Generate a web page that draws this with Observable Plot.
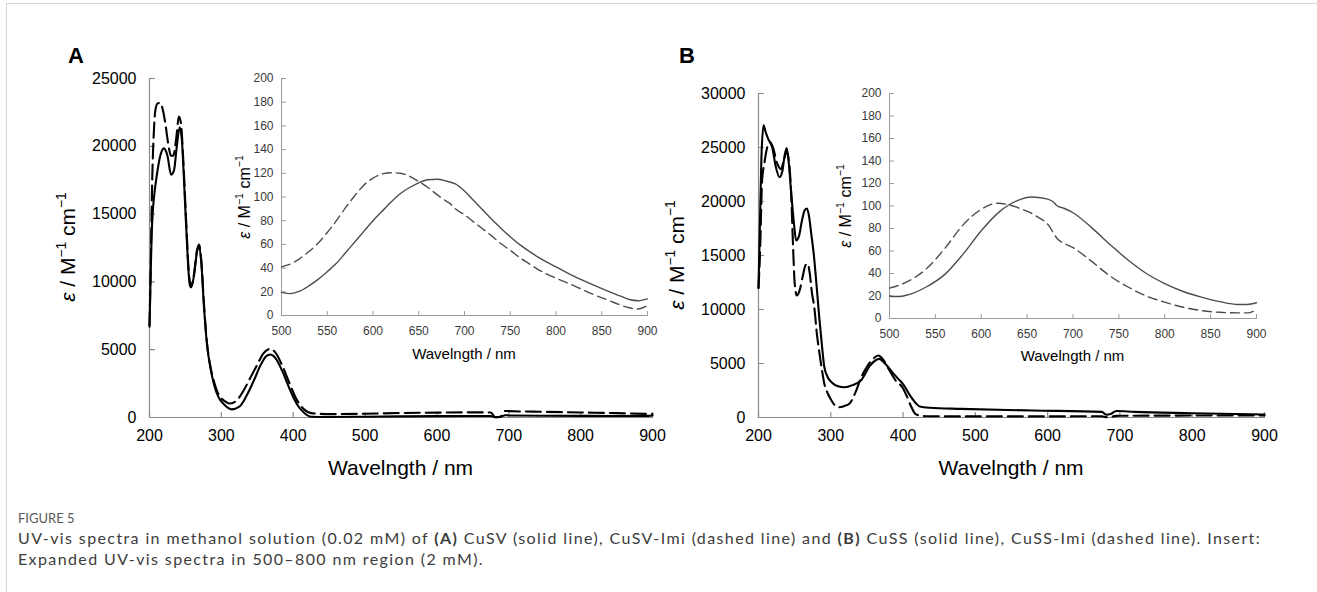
<!DOCTYPE html>
<html>
<head>
<meta charset="utf-8">
<script src="https://cdn.jsdelivr.net/npm/d3@7"></script>
<script src="https://cdn.jsdelivr.net/npm/@observablehq/plot@0.6"></script>
<style>
  html, body { margin: 0; padding: 0; background: #fff; }
  #root { position: relative; width: 1317px; height: 592px; overflow: hidden; background: #fff; }
  #frame { position: absolute; left: 6px; top: 3px; right: -2px; bottom: -2px; border-top: 1px solid #d6d6d6; border-left: 1px solid #d6d6d6; }
  svg.ov { position: absolute; left: 0; top: 0; pointer-events: none; }
</style>
</head>
<body>
<div id="root"><div id="frame"></div></div>
<script>
// ---------------- tick values ----------------
const xTicksMain = [200, 300, 400, 500, 600, 700, 800, 900];
const yTicksA = [0, 5000, 10000, 15000, 20000, 25000];
const yTicksB = [0, 5000, 10000, 15000, 20000, 25000, 30000];
const xTicksInset = [500, 550, 600, 650, 700, 750, 800, 850, 900];
const yTicksInset = [0, 20, 40, 60, 80, 100, 120, 140, 160, 180, 200];

// ---------------- panel A, main (0.02 mM) ----------------
const mainA_solid_wl  = [200,201,203,205,207,210,215,220,225,230,234,238,242,245,248,252,256,258,262,266,269,272,276,280,285,290,296,305,314,325,335,345,355,362,368,375,385,395,405,415,425,450,500,550,600,650,675,681,688,695,700,800,850,895,900];
const mainA_solid_eps = [6800,9000,13500,15500,16600,17800,19300,19850,19300,17900,18200,20000,21400,20500,17500,13000,9800,9600,10500,12200,12650,11500,8000,5400,3600,2400,1500,900,600,800,1600,2700,3900,4500,4650,4400,3400,2100,1000,350,60,40,60,80,100,110,110,20,40,170,150,120,110,120,150];
const mainA_dash_wl   = [200,202,204,206,208,211,215,218,222,226,230,233,237,241,244,247,251,255,258,262,266,269,272,276,280,285,290,296,305,311,320,330,340,350,358,368,375,385,395,405,415,425,435,450,500,550,600,650,675,681,688,695,700,750,800,850,900];
const mainA_dash_eps  = [6700,12000,18000,21000,22600,23150,23200,22800,21700,20200,19300,19300,20500,22200,21600,19000,14500,10500,9700,10600,12300,12750,11600,8200,5500,3700,2600,1700,1200,1030,1200,1900,2900,3900,4700,5060,4800,3800,2500,1300,600,320,280,250,280,330,360,380,370,30,60,480,470,420,370,320,250];

// ---------------- panel B, main (0.02 mM) ----------------
const mainB_solid_wl  = [200,202,204,207,210,214,219,224,229,233,236,239,242,245,249,252,256,260,264,267,270,273,276,280,284,288,291,296,301,310,319,330,342,354,362,367,375,385,393,400,410,418,423,437,480,580,675,681,688,695,720,800,900];
const mainB_solid_eps = [12000,18000,24000,27050,26400,25700,25000,23200,22250,22800,24200,24950,23500,21000,18000,16400,16800,18200,19200,19350,18600,17000,15400,12500,9300,6500,4700,3700,3270,2900,2800,3000,3450,4780,5300,5430,5000,4200,3600,3100,2000,1300,1020,900,800,650,520,250,350,600,520,400,280];
const mainB_dash_wl   = [200,202,205,208,212,216,220,226,231,235,239,242,245,248,250,253,257,261,265,268,271,274,277,281,284,288,291,296,301,306,311,318,326,334,342,350,358,366,372,380,390,399,405,412,417,425,431,500,600,675,681,688,695,700,800,900];
const mainB_dash_eps  = [12000,15000,22000,23500,25000,25500,25000,23500,23000,23800,24600,23800,21000,15500,12500,11300,11800,13000,14100,14250,13300,11500,10300,7600,6100,4300,3150,2200,1570,1100,950,1050,1300,2300,3700,4700,5400,5740,5400,4500,3400,2800,2000,900,340,150,120,100,100,120,30,60,150,160,180,200];

// ---------------- panel A, inset (2 mM) ----------------
const insA_solid_wl  = [500,510,520,530,540,550,560,570,580,590,600,610,620,630,640,650,660,670,680,690,700,710,720,730,740,750,760,770,780,790,800,820,840,860,870,880,890,900];
const insA_solid_eps = [19.5,18.5,20.5,25,30.5,37,44,53,62,71,80,88,96,103,108,112,114.5,115,113.5,111,105,97,89,81,73.5,66.5,60,54.5,49.5,45,41,33,26,19.5,16.5,13.5,12.5,14];
const insA_dash_wl   = [500,510,520,530,540,550,560,570,580,590,600,610,620,630,640,650,660,670,680,685,690,700,710,720,730,740,750,760,770,780,790,800,820,840,860,870,880,890,900];
const insA_dash_eps  = [41,43.5,48,54,61,70,80,91,101,110,116,119.5,120.5,120,117.5,113,108,102,96.5,94,90,85,79,73,67,60.5,55,49,44,39,35,31.5,25,18,12,9,6.5,5.5,8.5];

// ---------------- panel B, inset (2 mM) ----------------
const insB_solid_wl  = [500,505,510,520,540,560,580,600,620,640,655,670,678,683,690,700,720,740,760,780,800,820,840,860,880,890,900];
const insB_solid_eps = [20,19.5,19.5,21,28,39,57,78,95,105,108,106.5,104,100,98,94,81,66,52,40,31,24,19,15,12.5,12.5,14];
const insB_dash_wl   = [500,520,540,560,580,600,618,630,640,660,675,680,684,690,700,720,740,760,780,800,820,840,860,880,890,900];
const insB_dash_eps  = [27,33,44,62,83,97,102.5,101,98.5,91,81,74,70,67,63,51,38,28,20,14.5,10,7,5.5,5,5,8];

// ---------------- text ----------------
const xTitle = "Wavelngth / nm";
const panelLetters = ["A", "B"];
const figLabel = "FIGURE 5";
const captionLine1 = [
  ["UV-vis spectra in methanol solution (0.02 mM) of ", false],
  ["(A)", true],
  [" CuSV (solid line), CuSV-Imi (dashed line) and ", false],
  ["(B)", true],
  [" CuSS (solid line), CuSS-Imi (dashed line). Insert:", false]
];
const captionLine2 = "Expanded UV-vis spectra in 500\u2013800 nm region (2 mM).";

// ---------------- helpers ----------------
const root = document.getElementById("root");
const toRows = (xs, ys) => d3.zip(xs, ys).map(([x, y]) => ({x, y}));
const tickShape = { draw(ctx, l) { ctx.moveTo(0, 0); ctx.lineTo(0, -l); } };

function chart(c) {
  const svg = Plot.plot({
    width: c.width, height: c.height,
    marginLeft: c.frame.l - c.left,
    marginRight: c.left + c.width - c.frame.r,
    marginTop: c.frame.t - c.top,
    marginBottom: c.top + c.height - c.frame.b,
    x: {domain: c.xDomain},
    y: {domain: c.yDomain},
    style: {background: "transparent", fontFamily: "'Liberation Sans', Arial, sans-serif", overflow: "visible"},
    marks: [
      Plot.axisX({ticks: c.xTicks, tickSize: 0, tickPadding: c.padX, fontSize: c.font, fill: c.labelColor, label: null, tickFormat: d => String(d)}),
      Plot.axisY({ticks: c.yTicks, tickSize: 0, tickPadding: c.padY, fontSize: c.font, fill: c.labelColor, label: null, tickFormat: d => String(d)}),
      Plot.ruleX([c.xDomain[0]], {stroke: c.axisColor, strokeWidth: c.axisWidth}),
      Plot.ruleY([c.yDomain[0]], {stroke: c.axisColor, strokeWidth: c.axisWidth}),
      Plot.vector(c.xTicks, {x: d => d, y: () => c.yDomain[0], length: c.tickLen, anchor: "start", shape: tickShape, stroke: c.axisColor, strokeWidth: c.axisWidth}),
      Plot.vector(c.yTicks, {x: () => c.xDomain[0], y: d => d, length: c.tickLen, rotate: 90, anchor: "start", shape: tickShape, stroke: c.axisColor, strokeWidth: c.axisWidth}),
      Plot.line(c.solid, {x: "x", y: "y", curve: "monotone-x", stroke: c.lineColor, strokeWidth: c.lineWidth}),
      Plot.line(c.dashed, {x: "x", y: "y", curve: "monotone-x", stroke: c.lineColor, strokeWidth: c.lineWidth, strokeDasharray: c.dash})
    ]
  });
  svg.style.position = "absolute";
  svg.style.left = c.left + "px";
  svg.style.top = c.top + "px";
  root.appendChild(svg);
}

const mainStyle = {xDomain: [200, 900], xTicks: xTicksMain, font: 16, labelColor: "#000", axisColor: "#8a8a8a", axisWidth: 1.2, tickLen: 5, padX: 12, padY: 13, lineColor: "#000", lineWidth: 2.1, dash: "15,6"};
const insetStyle = {xDomain: [500, 900], xTicks: xTicksInset, yTicks: yTicksInset, yDomain: [0, 200], font: 12, labelColor: "#3a3a3a", axisColor: "#9a9a9a", axisWidth: 1, tickLen: 4, padX: 11, padY: 8, lineColor: "#4d4d4d", lineWidth: 1.4, dash: "9,5"};

chart({...mainStyle, left: 0, top: 0, width: 690, height: 470, frame: {l: 149, r: 652, t: 78, b: 417},
  yDomain: [0, 25000], yTicks: yTicksA,
  solid: toRows(mainA_solid_wl, mainA_solid_eps), dashed: toRows(mainA_dash_wl, mainA_dash_eps)});
chart({...mainStyle, left: 690, top: 0, width: 620, height: 470, frame: {l: 758, r: 1264, t: 93, b: 417},
  yDomain: [0, 30000], yTicks: yTicksB,
  solid: toRows(mainB_solid_wl, mainB_solid_eps), dashed: toRows(mainB_dash_wl, mainB_dash_eps)});
chart({...insetStyle, left: 230, top: 60, width: 440, height: 300, frame: {l: 281, r: 647, t: 78, b: 315},
  solid: toRows(insA_solid_wl, insA_solid_eps), dashed: toRows(insA_dash_wl, insA_dash_eps)});
chart({...insetStyle, left: 840, top: 70, width: 440, height: 300, frame: {l: 889, r: 1256, t: 93, b: 318},
  solid: toRows(insB_solid_wl, insB_solid_eps), dashed: toRows(insB_dash_wl, insB_dash_eps)});

// ---------------- overlay text ----------------
const ov = d3.select(root).append("svg").attr("class", "ov")
  .attr("width", 1317).attr("height", 592)
  .style("font-family", "'Liberation Sans', Arial, sans-serif");

function epsLabel(x, y, size) {
  const t = ov.append("text").attr("transform", `translate(${x},${y}) rotate(-90)`)
    .attr("text-anchor", "middle").attr("font-size", size).attr("fill", "#000");
  const sup = size * 0.42, ss = size * 0.66;
  t.append("tspan").attr("font-style", "italic").text("\u03b5");
  t.append("tspan").text(" / M");
  t.append("tspan").attr("dy", -sup).attr("font-size", ss).text("\u22121");
  t.append("tspan").attr("dy", sup).text(" cm");
  t.append("tspan").attr("dy", -sup).attr("font-size", ss).text("\u22121");
}

ov.append("text").attr("x", 68).attr("y", 63).attr("font-size", 22).attr("font-weight", 700).text(panelLetters[0]);
ov.append("text").attr("x", 679).attr("y", 63).attr("font-size", 22).attr("font-weight", 700).text(panelLetters[1]);

epsLabel(75, 247, 21);
epsLabel(684, 255, 21);
epsLabel(250, 197, 16);
epsLabel(851, 206, 16);

ov.append("text").attr("x", 400.5).attr("y", 475).attr("text-anchor", "middle").attr("font-size", 21).text(xTitle);
ov.append("text").attr("x", 1011).attr("y", 475).attr("text-anchor", "middle").attr("font-size", 21).text(xTitle);
ov.append("text").attr("x", 464).attr("y", 359).attr("text-anchor", "middle").attr("font-size", 15).text(xTitle);
ov.append("text").attr("x", 1072.5).attr("y", 361).attr("text-anchor", "middle").attr("font-size", 15).text(xTitle);

// caption
const capFont = "Lato, 'Noto Sans', sans-serif";
ov.append("text").attr("x", 18).attr("y", 523).attr("font-family", capFont).attr("font-size", 13).attr("fill", "#5a5a5a").text(figLabel);
const l1 = ov.append("text").attr("x", 18).attr("y", 544).attr("font-family", capFont).attr("font-size", 16).attr("fill", "#3c3c3c");
captionLine1.forEach(([s, b]) => l1.append("tspan").attr("font-weight", b ? 700 : 400).text(s));
const l2 = ov.append("text").attr("x", 18).attr("y", 565).attr("font-family", capFont).attr("font-size", 16).attr("fill", "#3c3c3c").text(captionLine2);
// fit caption line 1 to the reference width via letter spacing
const w1 = l1.node().getComputedTextLength();
const n1 = captionLine1.map(d => d[0]).join("").length;
const ls = (1242 - w1) / (n1 - 1);
l1.attr("letter-spacing", ls);
l2.attr("letter-spacing", ls);
</script>
</body>
</html>
